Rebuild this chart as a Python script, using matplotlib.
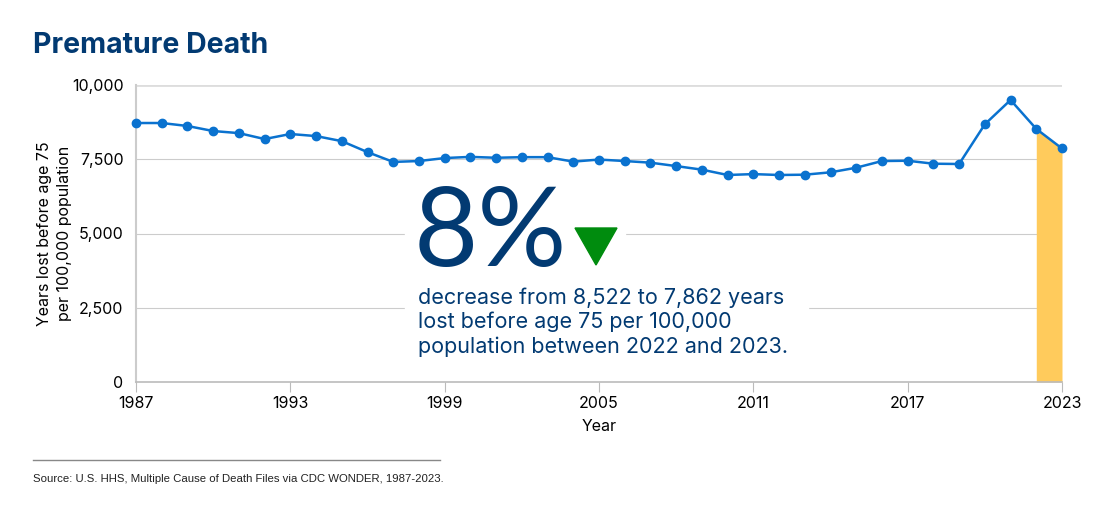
import matplotlib
matplotlib.use("Agg")
import matplotlib.pyplot as plt
from matplotlib.patches import Polygon, Rectangle
from matplotlib.lines import Line2D
from matplotlib.ticker import FuncFormatter

years = list(range(1987, 2024))
values = [8720, 8720, 8620, 8450, 8380, 8180, 8350, 8280, 8110, 7740,
          7410, 7440, 7540, 7580, 7550, 7570, 7570, 7420, 7490, 7440,
          7385, 7270, 7150, 6970, 7000, 6970, 6980, 7060, 7215, 7440,
          7450, 7350, 7340, 8677, 9495, 8522, 7862]
xticks = [1987, 1993, 1999, 2005, 2011, 2017, 2023]
yticks = [0, 2500, 5000, 7500, 10000]
highlight_years = [2022, 2023]
highlight_values = [8522, 7862]

NAVY = "#023a72"
BLUE = "#0a72cf"
GOLD = "#ffcb5c"
FONT = ["Inter", "DejaVu Sans"]

plt.rcParams["font.family"] = FONT
fig = plt.figure(figsize=(11.15, 5.29), dpi=100)
ax = fig.add_axes([136/1115, 1-382/529, 926/1115, 297/529])

ax.fill_between(highlight_years, 0, highlight_values, color=GOLD, lw=0, zorder=2)
ax.plot(years, values, color=BLUE, lw=1.8, marker="o", ms=6, zorder=3, clip_on=False)

ax.set_xlim(1987, 2023)
ax.set_ylim(0, 10000)
ax.set_xticks(xticks)
ax.set_yticks(yticks)
ax.yaxis.set_major_formatter(FuncFormatter(lambda v, p: f"{int(v):,}"))
ax.tick_params(axis="x", length=7, color="#bbbbbb", labelsize=11.5, pad=3)
ax.tick_params(axis="y", length=0, labelsize=11.5, pad=9)
for g in yticks[1:-1]:
    ax.axhline(g, color="#cccccc", lw=0.8, zorder=1)
ax.axhline(10000, color="#dddddd", lw=2, zorder=1)
for s in ["top", "right"]:
    ax.spines[s].set_visible(False)
ax.spines["left"].set_color("#cccccc")
ax.spines["left"].set_linewidth(1.5)
ax.spines["bottom"].set_color("#bbbbbb")
ax.spines["bottom"].set_linewidth(1.2)

ax.set_xlabel("Year", fontsize=11.5, labelpad=6)
ax.set_ylabel("Years lost before age 75\nper 100,000 population", fontsize=11.5, labelpad=0, linespacing=1.4)

# white background for annotation
fig.patches.append(Rectangle((405/1115, 1-275/529), 220/1115, 95/529,
                             transform=fig.transFigure, color="white", zorder=4))
fig.patches.append(Rectangle((405/1115, 1-365/529), 403/1115, 90/529,
                             transform=fig.transFigure, color="white", zorder=4))

fig.text(414/1115, 1-266/529, "8%", fontsize=80, color=NAVY, ha="left", va="baseline", zorder=5,
         family=["Lato", "DejaVu Sans"])
fig.patches.append(Polygon([(575/1115, 1-228/529), (617/1115, 1-228/529), (596/1115, 1-265/529)],
                           closed=True, transform=fig.transFigure, color="#008c0e", zorder=5))
fig.text(418/1115, 1-287/529,
         "decrease from 8,522 to 7,862 years\nlost before age 75 per 100,000\npopulation between 2022 and 2023.",
         fontsize=15.5, color=NAVY, ha="left", va="top", linespacing=1.25, zorder=5)

fig.text(33/1115, 1-46/529, "Premature Death", fontsize=20.5, fontweight="bold", color=NAVY,
         ha="left", va="center")

fig.lines.append(Line2D([33/1115, 440/1115], [1-460/529, 1-460/529], transform=fig.transFigure,
                        color="#888888", lw=1))
fig.text(33/1115, 1-479/529, "Source: U.S. HHS, Multiple Cause of Death Files via CDC WONDER, 1987-2023.",
         fontsize=8.2, family=["Liberation Sans", "DejaVu Sans"], ha="left", va="center", color="#222222")

fig.savefig("out.png", dpi=100)
